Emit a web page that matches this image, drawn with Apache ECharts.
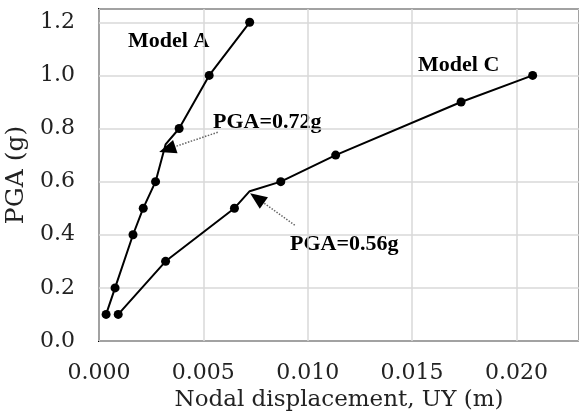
<!DOCTYPE html>
<html>
<head>
<meta charset="utf-8">
<script src="https://cdn.jsdelivr.net/npm/echarts@6/dist/echarts.min.js"></script>
<style>
  html, body { margin: 0; padding: 0; background: #fff; }
  #chart { width: 579px; height: 413px; }
</style>
</head>
<body>
<div id="chart"></div>
<script>
// Model A: nodal displacement (m) vs PGA (g)
const modelAX = [0.00034, 0.00077, 0.00163, 0.00212, 0.00271, 0.00384, 0.00528, 0.00722];
const modelAY = [0.1, 0.2, 0.4, 0.5, 0.6, 0.8, 1.0, 1.2];
const modelAYield = [0.00319, 0.74]; // kink, no marker

// Model C
const modelCX = [0.00092, 0.00319, 0.00649, 0.00871, 0.01134, 0.01735, 0.02078];
const modelCY = [0.1, 0.3, 0.5, 0.6, 0.7, 0.9, 1.0];
const modelCYield = [0.00722, 0.564];

const xTicks = [0, 0.005, 0.010, 0.015, 0.020];
const yTicks = [0, 0.2, 0.4, 0.6, 0.8, 1.0, 1.2];

// arrows: [tail, head] in data coords
const arrowA = [[0.00569, 0.786], [0.00327, 0.722]];
const arrowC = [[0.00938, 0.436], [0.00757, 0.538]];

function buildData(xs, ys, kink) {
  let pts = xs.map((x, i) => ({ value: [x, ys[i]] }));
  pts.push({ value: kink, symbol: "none" });
  pts.sort((a, b) => a.value[1] - b.value[1]);
  return pts;
}

function isTick(v, list) {
  return list.some((t) => Math.abs(t - v) < 1e-9);
}

// dotted gray shaft + short black segment carrying the triangle head
function arrowMarks(a) {
  let tail = a[0], head = a[1];
  let near = [head[0] + (tail[0] - head[0]) * 0.12, head[1] + (tail[1] - head[1]) * 0.12];
  return [
    [{ coord: tail }, { coord: head }],
    [
      { coord: near, lineStyle: { color: "#000", type: "solid", width: 1, shadowBlur: 6, shadowColor: "rgba(0,0,0,0.45)", shadowOffsetY: 2 } },
      { coord: head, symbol: "triangle" },
    ],
  ];
}

const serif = "DejaVu Serif";
const bold = "Liberation Serif";

const chart = echarts.init(document.getElementById("chart"));

const arrowLine = {
  silent: true,
  symbol: ["none", "none"],
  symbolSize: [14, 17],
  label: { show: false },
  lineStyle: { color: "#666", type: "dotted", width: 1.5 },
  emphasis: { disabled: true },
};

chart.setOption({
  animation: false,
  grid: {
    left: 99,
    right: 0,
    top: 9,
    bottom: 72,
    outerBoundsMode: "none",
    containLabel: false,
    show: true,
    borderColor: "#000",
    borderWidth: 2,
  },
  xAxis: {
    type: "value",
    min: 0,
    max: 0.023,
    interval: 0.005,
    name: "Nodal displacement, UY (m)",
    nameLocation: "middle",
    nameGap: 47,
    nameTextStyle: { fontFamily: serif, fontSize: 23, color: "#222" },
    axisLine: { show: false },
    axisTick: { show: false },
    axisLabel: {
      margin: 21,
      fontFamily: serif,
      fontSize: 22,
      color: "#222",
      formatter: (v) => (isTick(v, xTicks) ? v.toFixed(3) : ""),
    },
    splitLine: { lineStyle: { color: "#d9d9d9", width: 1.5 } },
  },
  yAxis: {
    type: "value",
    min: 0,
    max: 1.25,
    interval: 0.2,
    name: "PGA (g)",
    nameLocation: "middle",
    nameGap: 66,
    nameTextStyle: { fontFamily: serif, fontSize: 25, color: "#222" },
    axisLine: { show: false },
    axisTick: { show: false },
    axisLabel: {
      margin: 24,
      fontFamily: serif,
      fontSize: 22,
      color: "#222",
      formatter: (v) => (isTick(v, yTicks) ? v.toFixed(1) : ""),
    },
    splitLine: { lineStyle: { color: "#d9d9d9", width: 1.5 } },
  },
  series: [
    {
      name: "Model A",
      type: "line",
      data: buildData(modelAX, modelAY, modelAYield),
      symbol: "circle",
      symbolSize: 9,
      lineStyle: { color: "#000", width: 2 },
      itemStyle: { color: "#000" },
      markLine: Object.assign({}, arrowLine, { data: arrowMarks(arrowA) }),
    },
    {
      name: "Model C",
      type: "line",
      data: buildData(modelCX, modelCY, modelCYield),
      symbol: "circle",
      symbolSize: 9,
      lineStyle: { color: "#000", width: 2 },
      itemStyle: { color: "#000" },
      markLine: Object.assign({}, arrowLine, { data: arrowMarks(arrowC) }),
    },
  ],
  graphic: [
    { type: "text", left: 128, top: 30, style: { text: "Model A", font: "bold 22px " + bold, fill: "#000" } },
    { type: "text", left: 418, top: 54, style: { text: "Model C", font: "bold 22px " + bold, fill: "#000" } },
    { type: "text", left: 213, top: 111, style: { text: "PGA=0.72g", font: "bold 22px " + bold, fill: "#000" } },
    { type: "text", left: 290, top: 233, style: { text: "PGA=0.56g", font: "bold 22px " + bold, fill: "#000" } },
  ],
});
</script>
</body>
</html>
